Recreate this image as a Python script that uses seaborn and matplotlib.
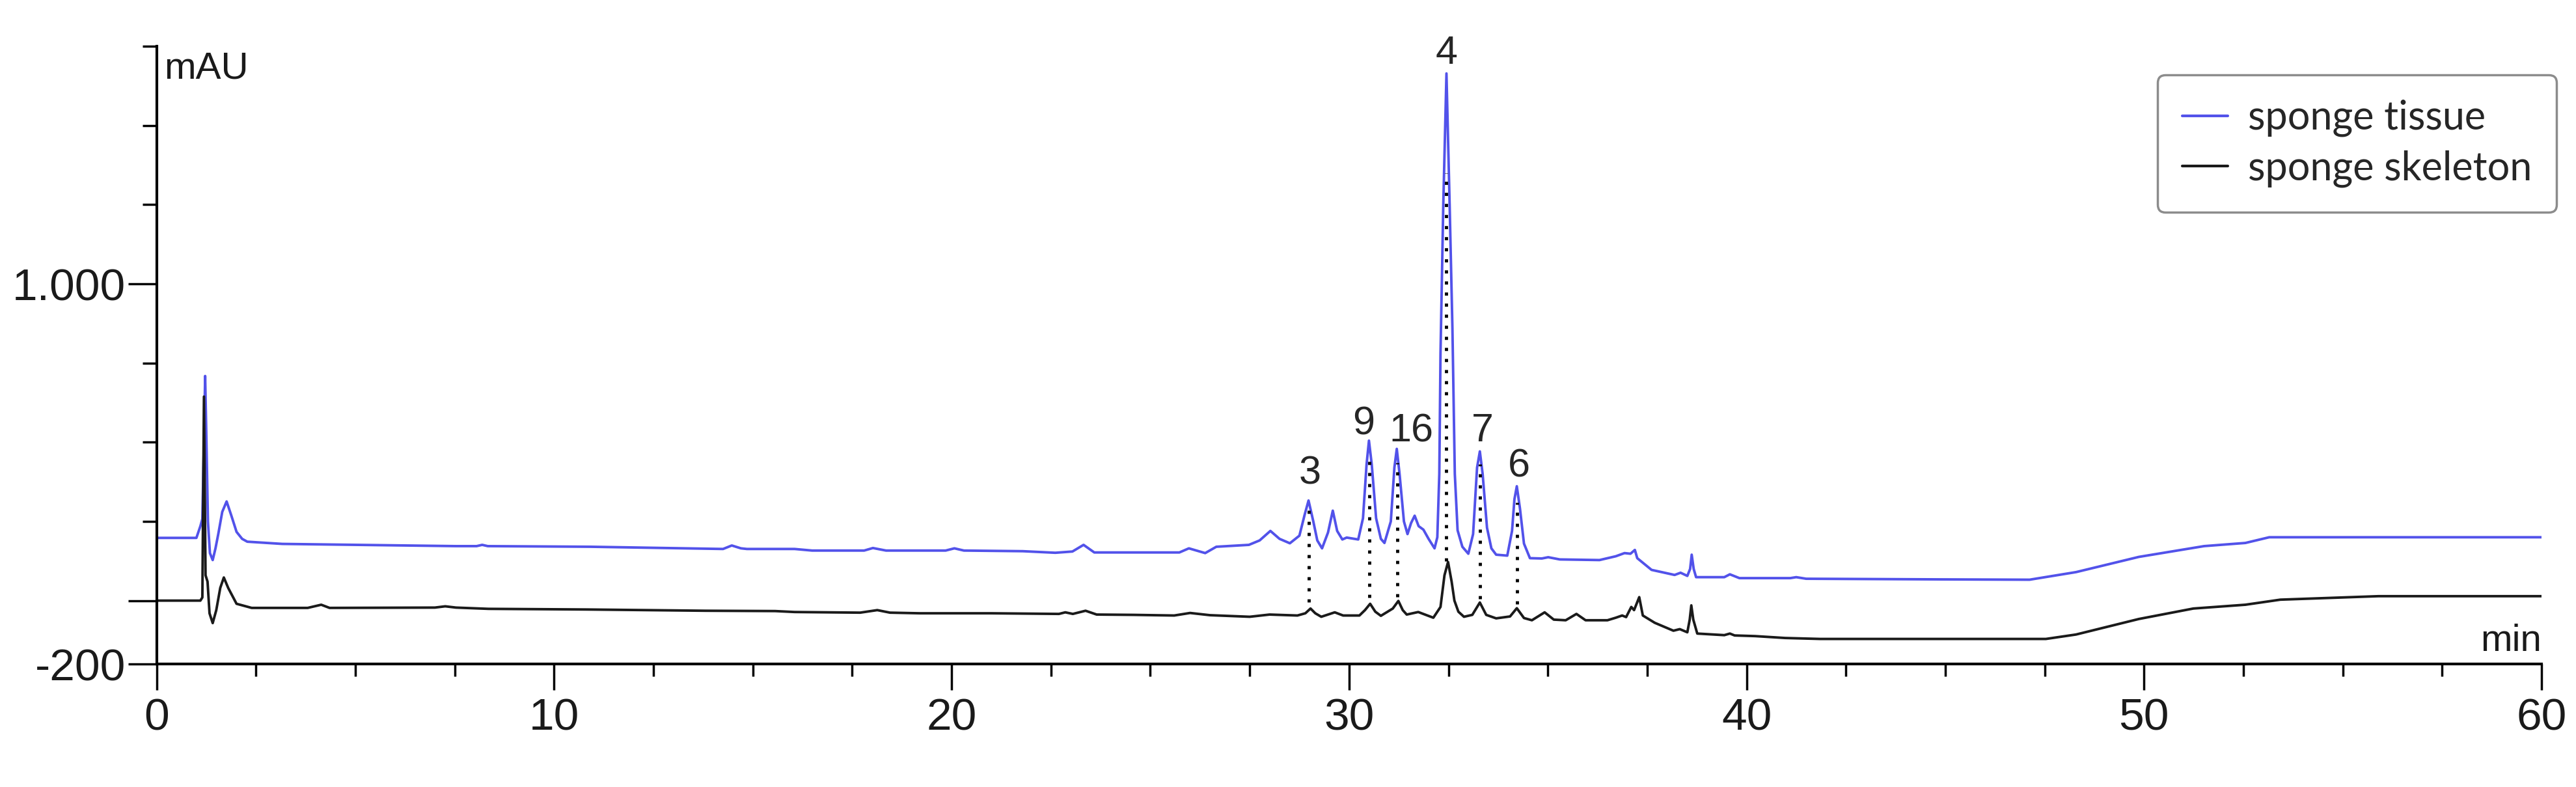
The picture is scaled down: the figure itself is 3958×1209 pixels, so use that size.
import matplotlib
matplotlib.use('Agg')
import pandas as pd
import matplotlib.pyplot as plt
import seaborn as sns

# retention time (min) and absorbance (mAU)
tissue_time = [0, 1.00, 1.10, 1.15, 1.19, 1.22, 1.25, 1.29, 1.34, 1.41, 1.48, 1.55, 1.65, 1.76, 1.88,
               2.01, 2.15, 2.28, 3.16, 5.0, 7.53, 8.05, 8.19, 8.33, 10.92, 13.32, 14.25, 14.47, 14.70,
               14.85, 16.05, 16.49, 17.80, 18.02, 18.35, 19.85, 20.07, 20.31, 21.79, 22.61, 23.04,
               23.32, 23.59, 24.57, 25.73, 25.97, 26.38, 26.66, 27.48, 27.75, 28.02, 28.25, 28.51,
               28.75, 28.88, 28.98, 29.10, 29.20, 29.32, 29.47, 29.59, 29.70, 29.83, 29.94, 30.23,
               30.35, 30.44, 30.50, 30.57, 30.68, 30.80, 30.89, 31.05, 31.14, 31.20, 31.27, 31.38,
               31.47, 31.56, 31.65, 31.75, 31.87, 32.00, 32.15, 32.22, 32.27, 32.30, 32.37, 32.45,
               32.53, 32.60, 32.66, 32.73, 32.85, 33.00, 33.12, 33.22, 33.29, 33.36, 33.47, 33.58,
               33.70, 33.98, 34.10, 34.16, 34.22, 34.30, 34.40, 34.55, 34.85, 35.01, 35.30, 36.30,
               36.71, 36.93, 37.08, 37.19, 37.25, 37.61, 38.19, 38.34, 38.51, 38.58, 38.62, 38.67,
               38.73, 39.44, 39.58, 39.82, 41.10, 41.25, 41.50, 44.91, 47.12, 48.29, 49.87, 51.51,
               52.55, 53.15, 60.00]
tissue_mau = [198, 198, 235, 258, 500, 709, 520, 250, 150, 128, 165, 210, 280, 313, 268,
              217, 195, 186, 179, 176, 172, 172, 176, 172, 170, 165, 163, 174, 165,
              163, 163, 158, 158, 166, 158, 158, 165, 158, 156, 151, 155,
              176, 152, 152, 152, 165, 150, 170, 176, 190, 220, 195, 181,
              205, 270, 316, 250, 190, 165, 215, 284, 220, 193, 199, 193,
              260, 430, 505, 430, 260, 195, 182, 250, 420, 479, 400, 250,
              210, 245, 268, 235, 224, 195, 165, 200, 400, 780, 1250, 1664,
              1250, 860, 400, 222, 170, 148, 210, 420, 471, 400, 230, 165,
              145, 142, 220, 320, 361, 290, 180, 134, 133, 137, 130, 128,
              140, 150, 148, 160, 134, 97, 81, 88, 78, 100, 145, 100,
              74, 74, 83, 71, 71, 74, 69, 67, 66, 90, 138, 172,
              182, 200, 200]

skeleton_time = [0, 1.10, 1.15, 1.19, 1.23, 1.28, 1.33, 1.41, 1.50, 1.60, 1.69, 1.80, 2.01, 2.39,
                 3.80, 4.14, 4.35, 7.00, 7.26, 7.53, 8.35, 10.81, 13.81, 15.56, 16.05, 17.70,
                 18.13, 18.45, 19.20, 21.00, 22.70, 22.86, 23.05, 23.37, 23.65, 24.58, 25.60,
                 26.00, 26.50, 27.50, 28.00, 28.70, 28.90, 29.03, 29.15, 29.30, 29.64, 29.85,
                 30.26, 30.40, 30.53, 30.66, 30.80, 31.10, 31.24, 31.35, 31.45, 31.74, 32.12,
                 32.30, 32.40, 32.49, 32.58, 32.65, 32.75, 32.89, 33.10, 33.29, 33.45, 33.70,
                 34.05, 34.22, 34.40, 34.60, 34.92, 35.15, 35.45, 35.72, 35.95, 36.50, 36.71,
                 36.87, 36.97, 37.10, 37.17, 37.30, 37.39, 37.69, 38.16, 38.32, 38.51, 38.57,
                 38.61, 38.66, 38.76, 39.44, 39.58, 39.70, 40.21, 40.97, 41.85, 47.53, 48.29,
                 49.87, 51.24, 52.55, 53.43, 55.90, 60.00]
skeleton_mau = [0, 0, 10, 644, 80, 60, -40, -71, -30, 40, 73, 40, -10, -23,
                -23, -13, -23, -22, -18, -22, -26, -28, -32, -33, -36, -38,
                -30, -38, -40, -40, -42, -37, -42, -32, -44, -45, -47,
                -39, -46, -51, -44, -47, -40, -25, -40, -51, -37, -47,
                -47, -30, -10, -35, -48, -25, -1, -30, -44, -36, -54,
                -20, 80, 122, 60, 0, -35, -51, -45, -6, -45, -56,
                -50, -24, -55, -62, -37, -60, -62, -42, -62, -62, -54,
                -47, -52, -20, -30, 11, -47, -70, -95, -90, -100, -60,
                -15, -60, -104, -109, -104, -110, -112, -118, -121, -121, -107,
                -58, -25, -13, 3, 14, 14]

# labelled compounds
peak_names = ['3', '9', '16', '4', '7', '6']
peak_time = [28.98, 30.51, 31.21, 32.45, 33.29, 34.22]
drop_top = [290, 460, 435, 1350, 430, 310]
drop_bottom = [-5, 10, 12, 125, 5, -10]
label_time = [29.02, 30.37, 31.56, 32.45, 33.36, 34.27]
label_mau = [368, 525, 502, 1695, 502, 391]

x_major = [0, 10, 20, 30, 40, 50, 60]
y_major = [-200, 0, 1000]
y_major_labels = ['-200', '', '1.000']
y_minor = [250, 500, 750, 1250, 1500, 1750]

df = pd.concat([
    pd.DataFrame({'time': tissue_time, 'mAU': tissue_mau, 'sample': 'sponge tissue'}),
    pd.DataFrame({'time': skeleton_time, 'mAU': skeleton_mau, 'sample': 'sponge skeleton'}),
])

sns.set_theme(style='ticks')
plt.rcParams['font.family'] = ['Liberation Sans', 'DejaVu Sans']

W, H = 3958, 1209
fig = plt.figure(figsize=(W / 100, H / 100), dpi=100)
ax = fig.add_axes([240.7 / W, 189 / H, (3905 - 240.7) / W, 949 / H])

blue = '#5252ea'
sns.lineplot(data=df, x='time', y='mAU', hue='sample',
             hue_order=['sponge tissue', 'sponge skeleton'],
             palette={'sponge tissue': blue, 'sponge skeleton': '#1a1a1a'},
             estimator=None, sort=False, linewidth=2.8, ax=ax)

ax.vlines(peak_time, drop_bottom, drop_top, colors='black',
          linestyles=(0, (1, 2.5)), linewidth=3.5, zorder=5)
for name, t, v in zip(peak_names, label_time, label_mau):
    ax.text(t, v, name, ha='center', va='baseline', fontsize=44)

ax.set_xlim(0, 60)
ax.set_ylim(-200, 1750)
ax.set_xticks(x_major)
ax.set_xticks([x + 2.5 * k for x in x_major[:-1] for k in (1, 2, 3)], minor=True)
ax.set_yticks(y_major)
ax.set_yticklabels(y_major_labels)
ax.set_yticks(y_minor, minor=True)
ax.set_xlabel('')
ax.set_ylabel('')

sns.despine(ax=ax)
for side in ('left', 'bottom'):
    ax.spines[side].set_linewidth(3)
    ax.spines[side].set_color('black')

ax.tick_params(axis='both', which='both', direction='out', width=2.5, color='black',
               labelsize=50, labelcolor='#1a1a1a')
ax.tick_params(axis='y', which='major', length=32, pad=2)
ax.tick_params(axis='y', which='minor', length=16)
ax.tick_params(axis='x', which='major', length=29, pad=8)
ax.tick_params(axis='x', which='minor', length=14)

ax.text(0.003, 0.948, 'mAU', transform=ax.transAxes, fontsize=42,
        ha='left', va='baseline', color='#1a1a1a')
ax.text(1.0, 0.021, 'min', transform=ax.transAxes, fontsize=42,
        ha='right', va='baseline', color='#1a1a1a')

handles, labels = ax.get_legend_handles_labels()
leg = ax.legend(handles, labels, loc='upper right',
                bbox_to_anchor=(3928 / W, 1 - 115 / H), bbox_transform=fig.transFigure,
                borderaxespad=0, prop={'family': 'Lato', 'size': 44}, frameon=True,
                fancybox=True, edgecolor='#8c8c8c', framealpha=1, handlelength=1.15,
                handletextpad=0.5, labelspacing=0.33, borderpad=0.62)
leg.get_frame().set_linewidth(2.5)
for line in leg.get_lines():
    line.set_linewidth(3)

fig.savefig('out.png', dpi=100)
